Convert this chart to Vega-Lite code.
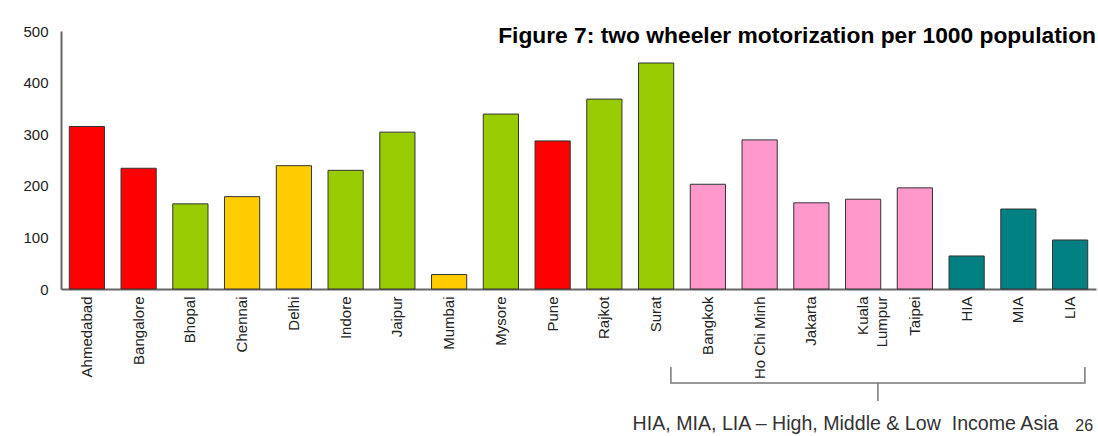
{
  "$schema": "https://vega.github.io/schema/vega-lite/v6.json",
  "autosize": {"type": "none"},
  "width": 1035,
  "height": 258,
  "padding": {"left": 61, "top": 31, "right": 2, "bottom": 147},
  "background": "white",
  "title": {
    "text": "Figure 7: two wheeler motorization per 1000 population",
    "anchor": "end",
    "frame": "group",
    "orient": "top",
    "offset": 0,
    "dy": 42,
    "baseline": "alphabetic",
    "fontSize": 22.8,
    "fontWeight": "bold",
    "font": "Liberation Sans",
    "color": "#000000"
  },
  "config": {
    "font": "Liberation Sans",
    "view": {"stroke": null},
    "axisX": {
      "labelAngle": -90,
      "ticks": false,
      "grid": false,
      "domainColor": "#666666",
      "domainWidth": 2,
      "labelPadding": 7,
      "labelFontSize": 15,
      "labelColor": "#222222",
      "labelFont": "Liberation Sans",
      "labelLineHeight": 19,
      "labelExpr": "datum.label == 'Kuala Lumpur' ? ['Kuala', 'Lumpur'] : datum.label"
    },
    "axisY": {
      "values": [0, 100, 200, 300, 400, 500],
      "ticks": false,
      "grid": false,
      "domainColor": "#666666",
      "domainWidth": 2,
      "labelPadding": 13,
      "labelFontSize": 15,
      "labelColor": "#222222",
      "labelFont": "Liberation Sans"
    }
  },
  "datasets": {
    "bars": [
      {"city": "Ahmedabad", "value": 315, "group": "g1"},
      {"city": "Bangalore", "value": 234, "group": "g1"},
      {"city": "Bhopal", "value": 165, "group": "g2"},
      {"city": "Chennai", "value": 179, "group": "g3"},
      {"city": "Delhi", "value": 239, "group": "g3"},
      {"city": "Indore", "value": 230, "group": "g2"},
      {"city": "Jaipur", "value": 304, "group": "g2"},
      {"city": "Mumbai", "value": 28, "group": "g3"},
      {"city": "Mysore", "value": 339, "group": "g2"},
      {"city": "Pune", "value": 287, "group": "g1"},
      {"city": "Rajkot", "value": 368, "group": "g2"},
      {"city": "Surat", "value": 438, "group": "g2"},
      {"city": "Bangkok", "value": 203, "group": "g4"},
      {"city": "Ho Chi Minh", "value": 289, "group": "g4"},
      {"city": "Jakarta", "value": 167, "group": "g4"},
      {"city": "Kuala Lumpur", "value": 174, "group": "g4"},
      {"city": "Taipei", "value": 196, "group": "g4"},
      {"city": "HIA", "value": 64, "group": "g5"},
      {"city": "MIA", "value": 155, "group": "g5"},
      {"city": "LIA", "value": 95, "group": "g5"}
    ],
    "bracket": [
      {"city": "Surat", "y": -151, "ord": 1},
      {"city": "Surat", "y": -182, "ord": 2},
      {"city": "LIA", "y": -182, "ord": 3},
      {"city": "LIA", "y": -151, "ord": 4}
    ],
    "tick": [
      {"city": "Kuala Lumpur", "y": -182, "y2": -217}
    ],
    "note": [
      {"city": "Kuala Lumpur", "y": -273, "text": "HIA, MIA, LIA – High, Middle & Low \u00a0Income Asia"}
    ],
    "page": [
      {"city": "LIA", "y": -276, "text": "26"}
    ]
  },
  "layer": [
    {
      "data": {"name": "bars"},
      "mark": {"type": "bar", "stroke": "#333333", "strokeWidth": 1},
      "encoding": {
        "x": {
          "field": "city", "type": "nominal", "title": null,
          "scale": {
            "domain": ["Ahmedabad", "Bangalore", "Bhopal", "Chennai", "Delhi", "Indore", "Jaipur", "Mumbai", "Mysore", "Pune", "Rajkot", "Surat", "Bangkok", "Ho Chi Minh", "Jakarta", "Kuala Lumpur", "Taipei", "HIA", "MIA", "LIA"],
            "paddingInner": 0.32, "paddingOuter": 0.16
          }
        },
        "y": {"field": "value", "type": "quantitative", "title": null, "scale": {"domain": [0, 500], "nice": false}},
        "color": {
          "field": "group", "type": "nominal", "legend": null,
          "scale": {"domain": ["g1", "g2", "g3", "g4", "g5"], "range": ["#FF0000", "#99CC00", "#FFCC00", "#FF99CC", "#008080"]}
        }
      }
    },
    {
      "data": {"name": "bracket"},
      "mark": {"type": "line", "color": "#777777", "strokeWidth": 1.5},
      "encoding": {
        "x": {"field": "city", "type": "nominal", "title": null, "bandPosition": 0.92},
        "y": {"field": "y", "type": "quantitative", "title": null, "scale": {"domain": [0, 500], "nice": false}},
        "order": {"field": "ord", "type": "quantitative"}
      }
    },
    {
      "data": {"name": "tick"},
      "mark": {"type": "rule", "color": "#777777", "strokeWidth": 1.5},
      "encoding": {
        "x": {"field": "city", "type": "nominal", "title": null, "bandPosition": 0.92},
        "y": {"field": "y", "type": "quantitative", "title": null, "scale": {"domain": [0, 500], "nice": false}},
        "y2": {"field": "y2"}
      }
    },
    {
      "data": {"name": "note"},
      "mark": {"type": "text", "fontSize": 19.6, "color": "#333333", "align": "center", "baseline": "alphabetic", "font": "Liberation Sans"},
      "encoding": {
        "x": {"field": "city", "type": "nominal", "title": null, "bandPosition": 0},
        "y": {"field": "y", "type": "quantitative", "title": null, "scale": {"domain": [0, 500], "nice": false}},
        "text": {"field": "text"}
      }
    },
    {
      "data": {"name": "page"},
      "mark": {"type": "text", "fontSize": 16, "color": "#333333", "align": "center", "baseline": "alphabetic", "font": "Liberation Sans"},
      "encoding": {
        "x": {"field": "city", "type": "nominal", "title": null, "bandPosition": 0.9},
        "y": {"field": "y", "type": "quantitative", "title": null, "scale": {"domain": [0, 500], "nice": false}},
        "text": {"field": "text"}
      }
    }
  ]
}
